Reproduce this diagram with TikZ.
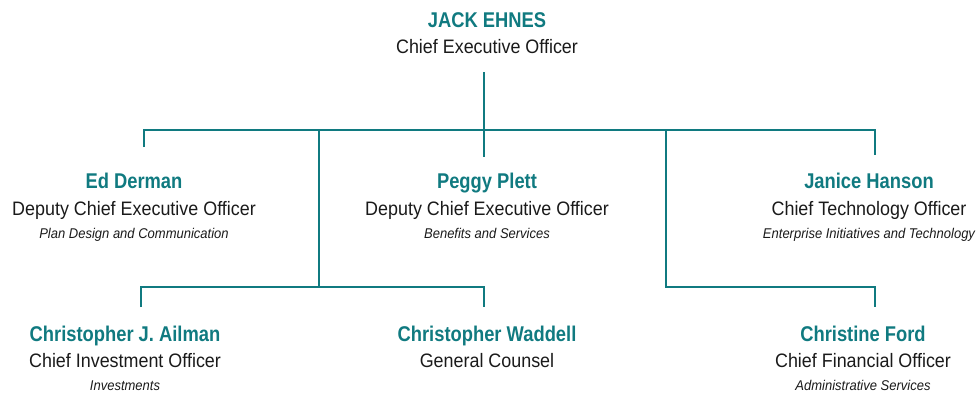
\documentclass[tikz,border=0pt]{standalone}
\usepackage{fontspec}
\setmainfont[FakeStretch=0.92,BoldFeatures={FakeStretch=0.86}]{Liberation Sans}
\usepackage{tikz}
\definecolor{teal}{RGB}{16,122,128}
\definecolor{ink}{RGB}{26,26,26}
\tikzstyle{head} = [anchor=base,inner sep=0pt,text=teal,font=\fontsize{16}{19}\selectfont\bfseries]
\tikzstyle{role} = [anchor=base,inner sep=0pt,text=ink,font=\fontsize{14.6}{17}\selectfont]
\tikzstyle{dept} = [anchor=base,inner sep=0pt,text=ink,font=\fontsize{10.6}{13}\selectfont\itshape]
\tikzstyle{link} = [draw=teal,line width=1.9pt,line join=miter]

\begin{document}
\begin{tikzpicture}[x=0.75pt,y=-0.75pt]
	\useasboundingbox (0,0) rectangle (979,393);
	% people, placed on their baselines
	\node[head] (ceo) at (487,27) {JACK EHNES};
	\node[role] (ceo-t) at (487,53) {Chief Executive Officer};

	\node[head] (ed) at (134,188) {Ed Derman};
	\node[role] (ed-t) at (134,215) {Deputy Chief Executive Officer};
	\node[dept] (ed-s) at (134,238) {Plan Design and Communication};

	\node[head] (peggy) at (487,188) {Peggy Plett};
	\node[role] (peggy-t) at (487,215) {Deputy Chief Executive Officer};
	\node[dept] (peggy-s) at (487,238) {Benefits and Services};

	\node[head] (janice) at (869,188) {Janice Hanson};
	\node[role] (janice-t) at (869,215) {Chief Technology Officer};
	\node[dept] (janice-s) at (869,238) {Enterprise Initiatives and Technology};

	\node[head] (ailman) at (125,341) {Christopher J. Ailman};
	\node[role] (ailman-t) at (125,367) {Chief Investment Officer};
	\node[dept] (ailman-s) at (125,390) {Investments};

	\node[head] (waddell) at (487,341) {Christopher Waddell};
	\node[role] (waddell-t) at (487,367) {General Counsel};

	\node[head] (ford) at (863,341) {Christine Ford};
	\node[role] (ford-t) at (863,367) {Chief Financial Officer};
	\node[dept] (ford-s) at (863,390) {Administrative Services};

	% line ends and bus levels
	\coordinate (ceo-out) at (484,72);
	\coordinate (bus) at (484,130);
	\coordinate (lower) at (0,287);
	\coordinate (lsplit) at (319,130);
	\coordinate (rsplit) at (666,130);
	\coordinate (ed-in) at (144,147);
	\coordinate (peggy-in) at (484,157);
	\coordinate (janice-in) at (875,155);
	\coordinate (ailman-in) at (141,307);
	\coordinate (waddell-in) at (484,307);
	\coordinate (ford-in) at (875,307);

	% connectors
	\draw[link] (ceo-out) -- (bus);
	\draw[link] (ed-in) |- (janice-in |- bus) -- (janice-in);
	\draw[link] (bus) -- (peggy-in);
	\draw[link] (lsplit) -- (lsplit |- lower);
	\draw[link] (ailman-in) |- (waddell-in |- lower) -- (waddell-in);
	\draw[link] (rsplit) |- (ford-in |- lower) -- (ford-in);
\end{tikzpicture}
\end{document}
